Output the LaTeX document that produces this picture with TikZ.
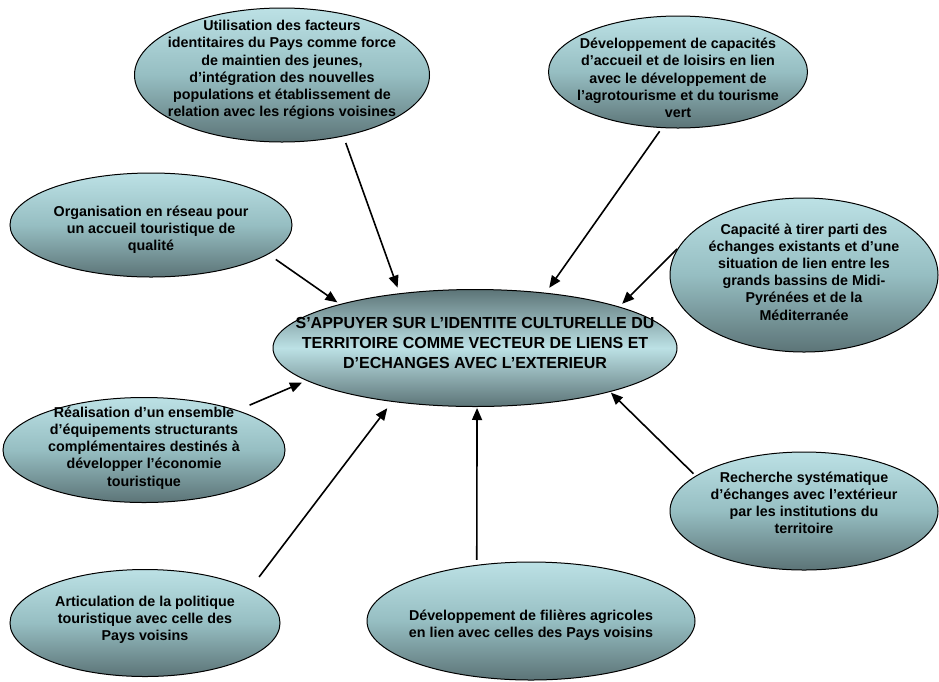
\documentclass[tikz,border=0pt]{standalone}
\usepackage{fontspec}
\setmainfont{Liberation Sans}
\usetikzlibrary{shapes.geometric,arrows.meta}

\definecolor{clair}{RGB}{188,225,229}
\definecolor{moyen}{RGB}{150,190,194}
\definecolor{fonce}{RGB}{92,116,119}

\newcommand\txtbulle{\fontsize{14.3}{17.2}\selectfont\bfseries}
\newcommand\txtcentre{\fontsize{16}{20}\selectfont\bfseries}

\begin{document}
\begin{tikzpicture}[x=1pt, y=-1pt]
        \tikzstyle{every node} = [align=center, font=\txtbulle]
        \tikzstyle{bulle} = [ellipse, draw, line width=1pt, top color=clair, bottom color=fonce, middle color=moyen]
        \tikzstyle{fleche} = [-{Triangle[length=12pt, width=10pt]}, line width=1.6pt]
        \useasboundingbox (0,0) rectangle (939,681);

        % le centre
        \node[ellipse, draw, line width=1pt, top color=fonce, bottom color=fonce, middle color=clair,
              minimum width=404pt, minimum height=117pt,
              label={[font=\txtcentre, yshift=5pt]center:{S’APPUYER SUR L’IDENTITE CULTURELLE DU\\TERRITOIRE COMME VECTEUR DE LIENS ET\\D’ECHANGES AVEC L’EXTERIEUR}}]
              (centre) at (475,348) {};

        % les bulles autour
        \node[bulle, minimum width=295pt, minimum height=134pt,
              label={[yshift=5pt]center:{Utilisation des facteurs\\identitaires du Pays comme force\\de maintien des jeunes,\\d’intégration des nouvelles\\populations et établissement de\\relation avec les régions voisines}}]
              (util) at (282,75) {};
        \node[bulle, minimum width=259pt, minimum height=112pt,
              label={[yshift=-6pt]center:{Développement de capacités\\d’accueil et de loisirs en lien\\avec le développement de\\l’agrotourisme et du tourisme\\vert}}]
              (accueil) at (678,72) {};
        \node[bulle, minimum width=282pt, minimum height=104pt,
              label={[yshift=-5pt]center:{Organisation en réseau pour\\un accueil touristique de\\qualité}}]
              (reseau) at (151,225) {};
        \node[bulle, minimum width=268pt, minimum height=154pt,
              label={[yshift=3pt]center:{Capacité à tirer parti des\\échanges existants et d’une\\situation de lien entre les\\grands bassins de Midi-\\Pyrénées et de la\\Méditerranée}}]
              (bassins) at (804,275) {};
        \node[bulle, minimum width=282pt, minimum height=105pt,
              label={[yshift=2pt]center:{Réalisation d’un ensemble\\d’équipements structurants\\complémentaires destinés à\\développer l’économie\\touristique}}]
              (equip) at (144,450) {};
        \node[bulle, minimum width=268pt, minimum height=118pt,
              label={[yshift=8pt]center:{Recherche systématique\\d’échanges avec l’extérieur\\par les institutions du\\territoire}}]
              (recherche) at (804,511) {};
        \node[bulle, minimum width=270pt, minimum height=107pt,
              label={[yshift=3pt]center:{Articulation de la politique\\touristique avec celle des\\Pays voisins}}]
              (politique) at (145,623) {};
        \node[bulle, minimum width=328pt, minimum height=118pt,
              label={[yshift=-4pt]center:{Développement de filières agricoles\\en lien avec celles des Pays voisins}}]
              (filieres) at (531,621) {};

        % les fleches vers le centre
        \path (util.-45) edge[fleche, shorten <=7pt, shorten >=6pt] (centre.144);
        \path (reseau.-14) edge[fleche, shorten <=9pt, shorten >=3pt] (centre.162.6);
        \path (accueil.-106.7) edge[fleche, shorten <=4pt, shorten >=6pt] (centre.38.8);
        \path (bassins.168.9) edge[fleche, shorten <=1pt, shorten >=4pt] (centre.16.7);
        \path (equip.23.6) edge[fleche, shorten <=13pt, shorten >=5pt] (centre.191.2);
        \path (politique.18.1) edge[fleche, shorten <=15pt, shorten >=8pt] (centre.213.1);
        \path (filieres.134.1) edge[fleche, shorten <=5pt, shorten >=1pt] (centre.-88);
        \path (recherche.162.7) edge[fleche, shorten <=3pt, shorten >=1pt] (centre.-18);
\end{tikzpicture}
\end{document}
